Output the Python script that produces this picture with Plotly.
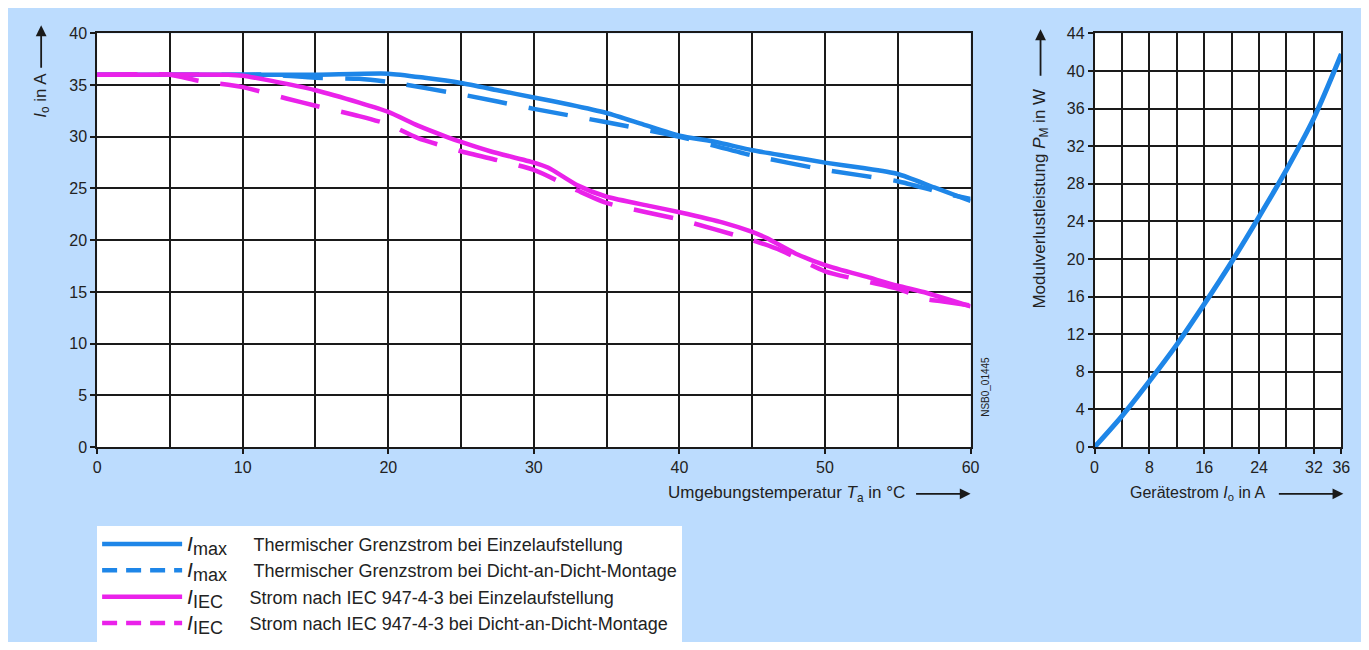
import plotly.graph_objects as go

# ---------------- data ----------------
T_jmax_single = [0, 5, 10, 15, 20, 22.5, 25, 27.5, 30, 32.5, 35, 37.5, 40, 42.5, 45, 47.5, 50, 52.5, 55, 57.5, 60]
I_jmax_single = [36, 36, 36, 36, 36.1, 35.7, 35.2, 34.5, 33.8, 33.1, 32.3, 31.2, 30.1, 29.5, 28.7, 28.1, 27.5, 27.0, 26.4, 25.1, 23.8]

T_jmax_dense = [0, 10, 12, 15, 18, 20, 25, 30, 35, 40, 45, 50, 55, 58, 60]
I_jmax_dense = [36, 36, 36, 35.7, 35.6, 35.3, 34.1, 32.7, 31.4, 30.0, 28.2, 26.8, 25.7, 24.6, 24.0]

T_iec_single = [0, 9, 10, 12, 15, 18, 20, 22, 24, 25, 27, 30, 31, 33, 35, 38, 40, 43, 45, 46, 48, 50, 53, 55, 57, 60]
I_iec_single = [36, 36, 35.9, 35.4, 34.5, 33.3, 32.4, 31.1, 30.0, 29.5, 28.6, 27.5, 27.0, 25.3, 24.2, 23.3, 22.7, 21.7, 20.8, 20.2, 18.7, 17.6, 16.4, 15.6, 14.9, 13.6]

T_iec_dense = [0, 5, 7, 10, 13, 15, 18, 20, 22, 25, 30, 33, 35, 40, 45, 47, 50, 55, 57, 58, 60]
I_iec_dense = [36, 36, 35.4, 34.8, 33.7, 33.0, 32.0, 31.2, 29.9, 28.6, 26.8, 24.8, 23.6, 22.0, 20.0, 19.0, 17.0, 15.3, 14.3, 14.1, 13.7]

I_device = [0, 4, 8, 12, 16, 20, 24, 28, 32, 36]
P_module = [0, 3.3, 7.0, 10.9, 15.2, 19.7, 24.5, 29.5, 35.0, 41.8]

BIG_I = '<span style="font-size:21px"><i>I</i></span>'
SUB = '<sub><span style="font-size:18px">{}</span></sub>'
SP = " \u2003\u2009"
legend_names = [
    BIG_I + SUB.format("max") + SP + "Thermischer Grenzstrom bei Einzelaufstellung",
    BIG_I + SUB.format("max") + SP + "Thermischer Grenzstrom bei Dicht-an-Dicht-Montage",
    BIG_I + SUB.format("IEC") + SP + "Strom nach IEC 947-4-3 bei Einzelaufstellung",
    BIG_I + SUB.format("IEC") + SP + "Strom nach IEC 947-4-3 bei Dicht-an-Dicht-Montage",
]

# ---------------- styling ----------------
OFF = 8
W, H = 1369 - 2 * OFF, 650 - 2 * OFF
BLUE = "#1e86e8"
MAGENTA = "#ea22ea"
BG = "#bcdcfe"
FONT = "Liberation Sans, Arial, sans-serif"
TXT = "#222222"
GRID = "#1a1a1a"

# empirical correction between intended page pixels and the photographed picture
KX, AX = 0.991, 2.9
KY, AY = 0.9736, 6.8


def px_x(p):
    return ((p - AX) / KX - OFF) / W


def px_y(p):
    return 1 - ((p - AY) / KY - OFF) / H


fig = go.Figure()

LONG_DASH = "40px,22px"
SHORT_DASH = "15px,9px"
LW = 4.5

fig.add_trace(go.Scatter(x=T_jmax_dense, y=I_jmax_dense, mode="lines", showlegend=False,
                         line=dict(color=BLUE, width=LW, dash=LONG_DASH, shape="spline", smoothing=0.6),
                         xaxis="x", yaxis="y"))
fig.add_trace(go.Scatter(x=T_jmax_single, y=I_jmax_single, mode="lines", showlegend=False,
                         line=dict(color=BLUE, width=LW, shape="spline", smoothing=0.6), xaxis="x", yaxis="y"))
fig.add_trace(go.Scatter(x=T_iec_dense, y=I_iec_dense, mode="lines", showlegend=False,
                         line=dict(color=MAGENTA, width=LW, dash=LONG_DASH, shape="spline", smoothing=0.6),
                         xaxis="x", yaxis="y"))
fig.add_trace(go.Scatter(x=T_iec_single, y=I_iec_single, mode="lines", showlegend=False,
                         line=dict(color=MAGENTA, width=LW, shape="spline", smoothing=0.6), xaxis="x", yaxis="y"))
fig.add_trace(go.Scatter(x=I_device, y=P_module, mode="lines", showlegend=False,
                         line=dict(color=BLUE, width=5, shape="spline", smoothing=0.8), xaxis="x2", yaxis="y2"))

key_styles = [(BLUE, "solid"), (BLUE, SHORT_DASH), (MAGENTA, "solid"), (MAGENTA, SHORT_DASH)]
for name, (col, dash) in zip(legend_names, key_styles):
    fig.add_trace(go.Scatter(x=[None], y=[None], mode="lines", name=name,
                             line=dict(color=col, width=LW, dash=dash), xaxis="x", yaxis="y"))

axis_common = dict(
    showgrid=True, gridcolor=GRID, gridwidth=1.5,
    showline=True, linecolor=GRID, linewidth=1.5, mirror=True,
    ticks="outside", ticklen=5, tickcolor=GRID, tickwidth=1.5,
    tickfont=dict(family=FONT, size=16, color=TXT),
    zeroline=False, fixedrange=True,
)

ydom = [px_y(448), px_y(32)]

fig.update_layout(
    width=W, height=H,
    margin=dict(l=0, r=0, t=0, b=0),
    paper_bgcolor=BG,
    plot_bgcolor="white",
    font=dict(family=FONT, color=TXT),
    xaxis=dict(axis_common, domain=[px_x(96), px_x(970)], range=[0, 60],
               tickvals=[0, 10, 20, 30, 40, 50, 60],
               minor=dict(dtick=5, showgrid=True, gridcolor=GRID, gridwidth=1.5, ticks=""),
               anchor="y"),
    yaxis=dict(axis_common, domain=ydom, range=[0, 40], dtick=5, anchor="x"),
    xaxis2=dict(axis_common, domain=[px_x(1094), px_x(1341)], range=[0, 36],
                tickvals=[0, 8, 16, 24, 32, 36],
                minor=dict(dtick=4, showgrid=True, gridcolor=GRID, gridwidth=1.5, ticks=""),
                anchor="y2"),
    yaxis2=dict(axis_common, domain=ydom, range=[0, 44], dtick=4, anchor="x2"),
    legend=dict(
        x=px_x(96), y=px_y(527), xanchor="left", yanchor="top",
        bgcolor="white", borderwidth=0,
        font=dict(family=FONT, size=18, color=TXT),
        tracegroupgap=0, itemwidth=80,
    ),
    showlegend=True,
)

annots = []
annots.append(dict(x=px_x(40), y=px_y(70), xref="paper", yref="paper", text="<i>I</i><sub>o</sub> in A",
                   textangle=-90, showarrow=False, xanchor="center", yanchor="top",
                   font=dict(family=FONT, size=17, color=TXT)))
annots.append(dict(x=px_x(906), y=px_y(495), xref="paper", yref="paper",
                   text="Umgebungstemperatur <i>T</i><sub>a</sub> in °C",
                   showarrow=False, xanchor="right", yanchor="middle",
                   font=dict(family=FONT, size=17, color=TXT)))
annots.append(dict(x=px_x(1268), y=px_y(495), xref="paper", yref="paper",
                   text="Gerätestrom <i>I</i><sub>o</sub> in A",
                   showarrow=False, xanchor="right", yanchor="middle",
                   font=dict(family=FONT, size=16, color=TXT)))
annots.append(dict(x=px_x(1040), y=px_y(86), xref="paper", yref="paper",
                   text="Modulverlustleistung <i>P</i><sub>M</sub> in W",
                   textangle=-90, showarrow=False, xanchor="center", yanchor="top",
                   font=dict(family=FONT, size=17, color=TXT)))
annots.append(dict(x=px_x(985), y=px_y(420), xref="paper", yref="paper", text="NSB0_01445",
                   textangle=-90, showarrow=False, xanchor="center", yanchor="bottom",
                   font=dict(family=FONT, size=10, color=TXT)))


def arrow(x_tip, y_tip, dx, dy):
    return dict(x=px_x(x_tip), y=px_y(y_tip), xref="paper", yref="paper", text="",
                showarrow=True, arrowhead=2, arrowsize=1.2, arrowwidth=1.8, arrowcolor=GRID,
                ax=dx, ay=dy, axref="pixel", ayref="pixel")


annots.append(arrow(40, 24, 0, 44))
annots.append(arrow(1040, 28, 0, 48))
annots.append(arrow(970, 495, -56, 0))
annots.append(arrow(1343, 495, -66, 0))

fig.update_layout(annotations=annots)

fig.write_html("out.html")
